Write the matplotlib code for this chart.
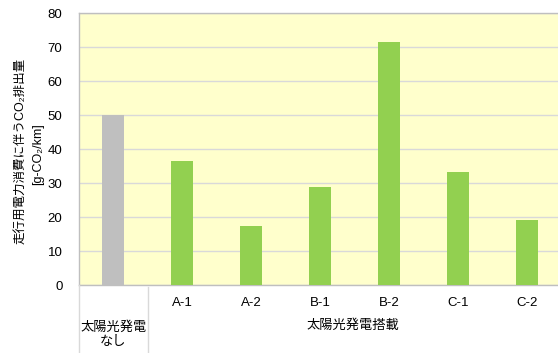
import matplotlib
matplotlib.use("Agg")
import matplotlib.pyplot as plt
from matplotlib.lines import Line2D

plt.rcParams['font.family'] = ['Liberation Sans', 'Noto Sans CJK JP', 'DejaVu Sans']

categories = ["", "A-1", "A-2", "B-1", "B-2", "C-1", "C-2"]
values = [50.0, 36.4, 17.4, 28.9, 71.6, 33.2, 19.2]
colors = ["#BFBFBF"] + ["#92D050"] * 6
group_labels = ["太陽光発電\nなし", "太陽光発電搭載"]
yticks = [0, 10, 20, 30, 40, 50, 60, 70, 80]
ylabel1 = "走行用電力消費に伴うCO₂排出量"
ylabel2 = "[g-CO₂/km]"

FS = 9.5
W, H = 558, 353
fig = plt.figure(figsize=(W / 100, H / 100), dpi=100)
ax = fig.add_axes([78.5 / W, (H - 285) / H, (W - 78.5) / W, 272 / H])
ax.set_facecolor("#FFFFCC")

x = list(range(len(values)))
ax.bar(x, values, width=0.32, color=colors, zorder=3)
ax.set_xlim(-0.5, -0.5 + 479.5 / 69)
ax.set_ylim(0, 80)
ax.set_yticks(yticks)
ax.set_yticklabels([str(v) for v in yticks], fontsize=FS)
ax.tick_params(axis='y', length=0, pad=11.5)
ax.set_xticks(x)
ax.set_xticklabels(categories, fontsize=FS)
ax.tick_params(axis='x', length=0, pad=9)
ax.grid(axis='y', color="#D9D9D9", linewidth=1, zorder=0)
for s in ["top", "left", "bottom"]:
    ax.spines[s].set_color("#BFBFBF")
    ax.spines[s].set_linewidth(1)
ax.spines["right"].set_visible(False)

# table lines
fig.add_artist(Line2D([79 / W, 79 / W], [0, (H - 285) / H], color="#D9D9D9", lw=1))
fig.add_artist(Line2D([148 / W, 148 / W], [0, (H - 287) / H], color="#D9D9D9", lw=1))

fig.text(113.5 / W, 1 - 335 / H, group_labels[0], ha='center', va='center', fontsize=FS,
         linespacing=1.25)
fig.text(353 / W, 1 - 326 / H, group_labels[1], ha='center', va='center', fontsize=FS)

fig.text(20 / W, 1 - 151 / H, ylabel1, rotation=90, ha='center', va='center', fontsize=9)
fig.text(38 / W, 1 - 154 / H, ylabel2, rotation=90, ha='center', va='center', fontsize=9)

fig.savefig("out.png", dpi=100)
